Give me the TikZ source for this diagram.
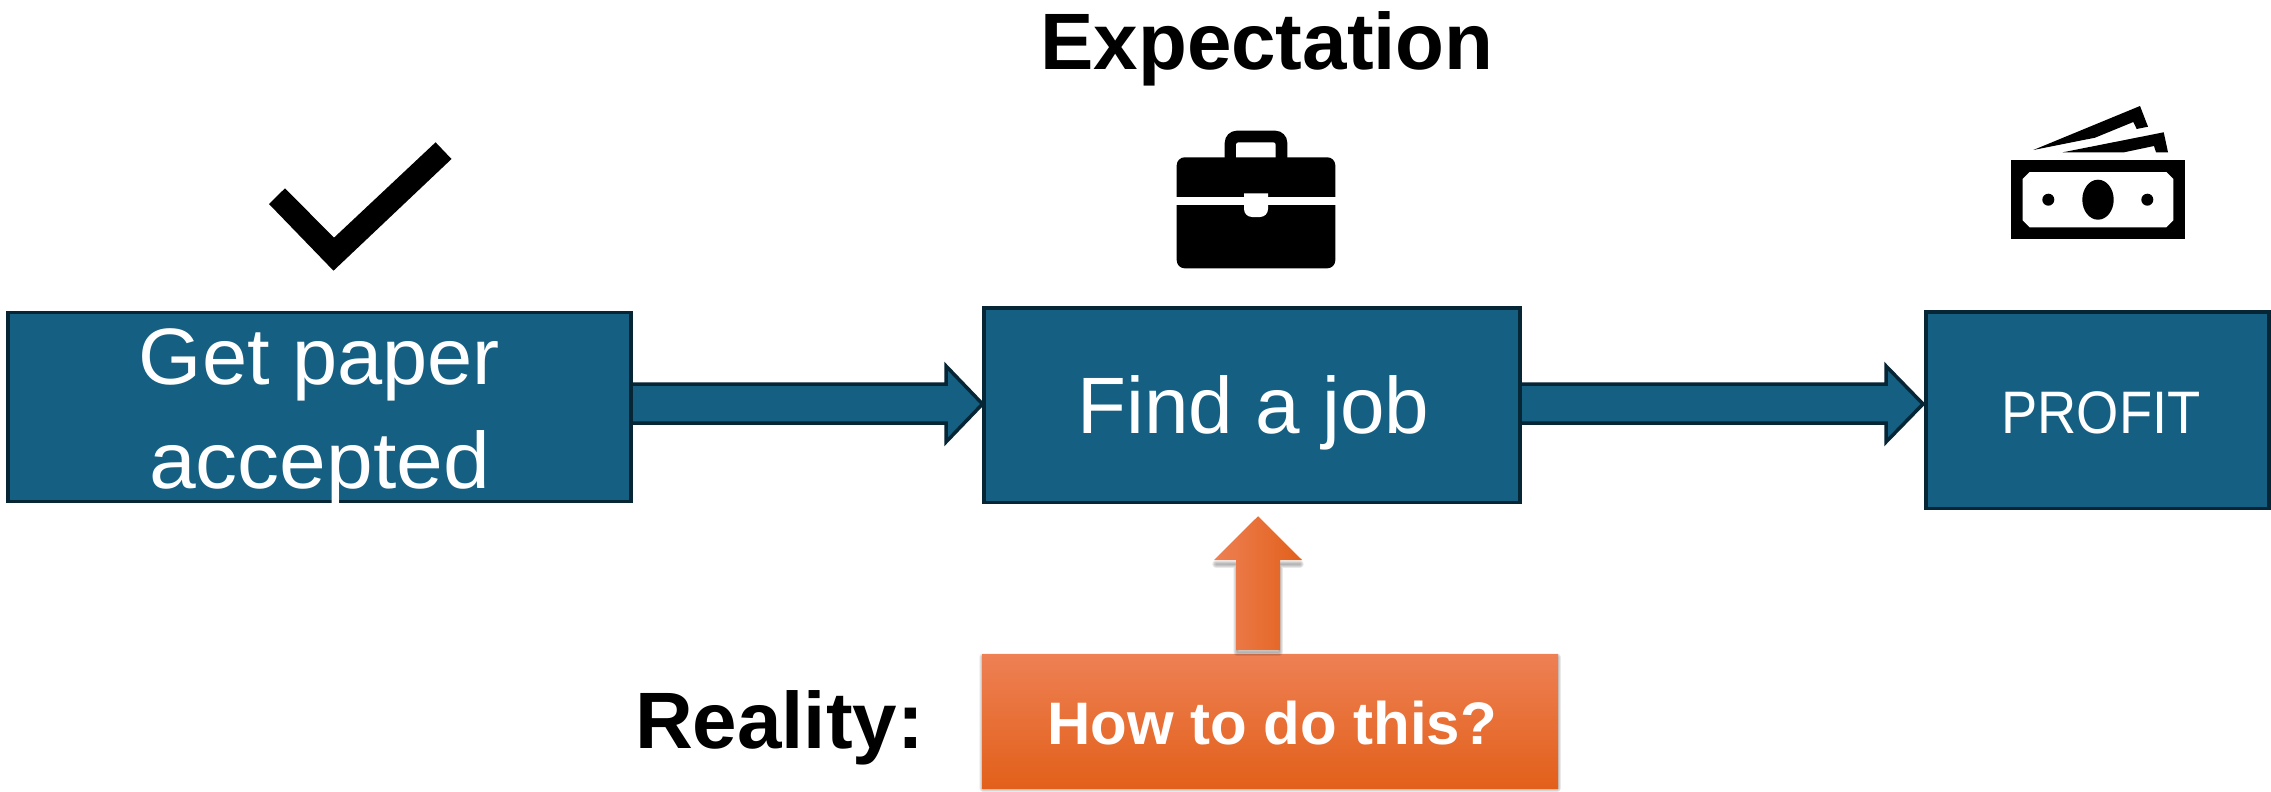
\documentclass[tikz,border=0pt]{standalone}
\usepackage{fontspec}
\setmainfont{Liberation Sans}
\usetikzlibrary{calc}
\definecolor{boxblue}{RGB}{21,96,130}
\definecolor{boxline}{RGB}{6,37,53}
\definecolor{orangeA}{RGB}{238,128,84}
\definecolor{orangeB}{RGB}{243,112,46}
\definecolor{orangeC}{RGB}{226,96,26}
\tikzset{
  bluebox/.style={draw=boxline,fill=boxblue,line width=3.5pt,text=white,inner sep=0pt,outer sep=0pt,align=center},
  blockarrow/.style={draw=boxline,fill=boxblue,line width=3.5pt,miter limit=10},
  bigtext/.style={font=\fontsize{80}{104}\selectfont},
  titletext/.style={font=\bfseries\fontsize{80}{96}\selectfont,text=black,inner sep=0pt,outer sep=0pt},
  orangebox/.style={top color=orangeA,middle color=orangeB,bottom color=orangeC,draw=none,text=white,inner sep=0pt,outer sep=0pt},
  softshadow/.style={draw=black,draw opacity=0.045,fill=none,line join=round},
  iconfill/.style={fill=black,draw=none}
}
\begin{document}
\begin{tikzpicture}[x=1pt,y=-1pt]
\useasboundingbox (0,0) rectangle (2271,792);
% boxes
\node[bluebox,bigtext,minimum width=623pt,minimum height=189pt,text height=162pt,text depth=0pt] (paper) at (319.5,407) {\scalebox{1.015}[1]{Get paper}\\\scalebox{1.05}[1]{accepted}};
\node[bluebox,bigtext,minimum width=536pt,minimum height=194.5pt,text height=76pt,text depth=20pt] (job) at (1252,405) {\hspace*{3pt}Find a job};
\node[bluebox,minimum width=343pt,minimum height=196.5pt,text height=56pt,text depth=10pt,font=\fontsize{60}{70}\selectfont] (profit) at (2097.5,410) {\hspace*{7pt}\scalebox{0.905}[1]{PROFIT}};
% block arrows
\draw[blockarrow] ($(paper.east)+(0,-23)$) -- ($(job.west)+(-38,-21)$) -- ($(job.west)+(-38,-39)$) -- ($(job.west)+(-1.5,-1)$) -- ($(job.west)+(-38,37)$) -- ($(job.west)+(-38,18)$) -- ($(paper.east)+(0,16)$) -- cycle;
\draw[blockarrow] ($(job.east)+(0,-21)$) -- ($(profit.west)+(-40,-26)$) -- ($(profit.west)+(-40,-44)$) -- ($(profit.west)+(-3,-6)$) -- ($(profit.west)+(-40,32)$) -- ($(profit.west)+(-40,13)$) -- ($(job.east)+(0,18)$) -- cycle;
% orange box shadow
\foreach \w in {1,2,3,4,5,6,7,8}{
  \draw[softshadow,line width=\w pt] (983,657) rectangle (1557,788);
}
\node[orangebox,minimum width=576pt,minimum height=134pt,text height=56pt,text depth=10pt,font=\bfseries\fontsize{60}{70}\selectfont] (how) at (1270,721) {\hspace*{4pt}How to do this?};
% orange arrow
\coordinate (upTail) at ($(how.north)+(-12,-4)$);
\coordinate (upTip) at ($(job.south)+(6,14)$);
\foreach \w in {1,2,3,4,5,6,7,8}{
  \draw[softshadow,line width=\w pt] ($(upTail)+(-21,2)$) -- ($(upTail)+(-21,-86)$) -- ($(upTail)+(-42,-86)$) -- ($(upTail)+(42,-86)$) -- ($(upTail)+(21,-86)$) -- ($(upTail)+(21,2)$) -- cycle;
}
\shade[left color=orangeA,middle color=orangeB,right color=orangeC]
  ($(upTail)+(-22,0)$) -- ($(upTail)+(-22,-90)$) -- ($(upTail)+(-44,-90)$) -- (upTip) -- ($(upTail)+(44,-90)$) -- ($(upTail)+(22,-90)$) -- ($(upTail)+(22,0)$) -- cycle;
% titles
\node[titletext,anchor=base] (expect) at (1267,70) {Expectation};
\node[titletext,anchor=base] (reality) at (779.5,748) {Reality:};
% check mark
\fill[iconfill] (435.6,142.3) -- (451.5,159) -- (333.5,270.7) -- (269,204) -- (285,188.3) -- (334,237.7) -- cycle;
% briefcase
\fill[iconfill,rounded corners=12pt] (1224.7,170) -- (1224.7,130.7) -- (1287.3,130.7) -- (1287.3,170) -- cycle;
\fill[white,rounded corners=2.5pt] (1236,160) -- (1236,142.3) -- (1275.7,142.3) -- (1275.7,160) -- cycle;
\fill[iconfill,rounded corners=8pt] (1176.7,157.3) rectangle (1335.3,268.3);
\fill[white] (1176,197) rectangle (1336,204.7);
\fill[white] (1244,193.3) -- (1268,193.3) [rounded corners=8pt] -- (1268,217) -- (1244,217) [sharp corners] -- (1244,193.3) -- cycle;
% money
\fill[iconfill] (2011,160) rectangle (2185,239.3);
\fill[white] (2029.7,172) -- (2166.3,172) -- (2173.3,179) -- (2173.3,220.3) -- (2166.3,227.3) -- (2029.7,227.3) -- (2022.7,220.3) -- (2022.7,179) -- cycle;
\fill[iconfill] (2098,199.7) ellipse [x radius=15.7,y radius=20];
\fill[iconfill] (2048.3,199.7) circle [radius=6];
\fill[iconfill] (2147.3,199.7) circle [radius=6];
\fill[iconfill] (2033.3,150) -- (2140,106) -- (2148,126.7) -- (2136.7,129) -- (2133.3,122) -- (2095,137.7) -- cycle;
\fill[iconfill] (2062.7,152.3) -- (2163.7,132.3) -- (2168,152.3) -- (2156,152.3) -- (2154,146) -- (2124,152.3) -- cycle;
\end{tikzpicture}
\end{document}
